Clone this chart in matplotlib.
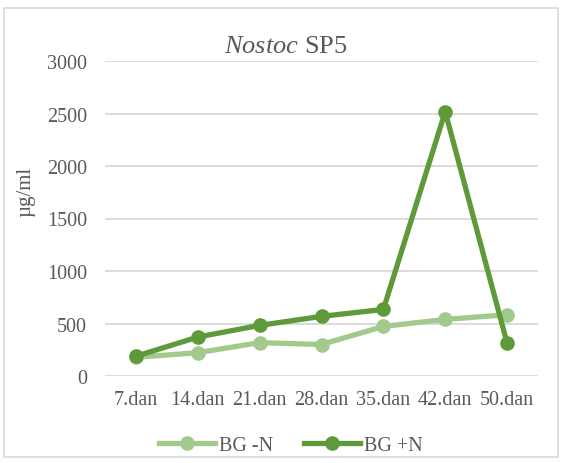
import matplotlib
matplotlib.use("Agg")
import matplotlib.pyplot as plt
from matplotlib.patches import Rectangle
from matplotlib.lines import Line2D

categories = ["7.dan", "14.dan", "21.dan", "28.dan", "35.dan", "42.dan", "50.dan"]
bg_minus_n = [178, 222, 318, 300, 472, 539, 584]
bg_plus_n = [188, 371, 482, 568, 634, 2517, 314]
series_names = ["BG -N", "BG +N"]
yticks = [0, 500, 1000, 1500, 2000, 2500, 3000]

light = "#A2CA8C"
dark = "#5E9A3A"
txt = "#595959"
grid = "#D9D9D9"

plt.rcParams["font.family"] = ["Liberation Serif", "DejaVu Serif"]
plt.rcParams["mathtext.fontset"] = "custom"
plt.rcParams["mathtext.rm"] = "Liberation Serif"
plt.rcParams["mathtext.it"] = "Liberation Serif:italic"

fig = plt.figure(figsize=(5.68, 4.64), dpi=100)
fig.patches.append(Rectangle((4/568, 6/464), 554/568, 449/464, transform=fig.transFigure,
                             fill=False, edgecolor=grid, linewidth=1.2))

ax = fig.add_axes([105/568, 87/464, 433/568, 315/464])
x = list(range(len(categories)))
ax.plot(x, bg_minus_n, color=light, lw=3.8, marker="o", ms=9.5, solid_capstyle="round", zorder=3)
ax.plot(x, bg_plus_n, color=dark, lw=3.8, marker="o", ms=9.5, solid_capstyle="round", zorder=4)

ax.set_xlim(-0.5, len(categories) - 0.5)
ax.set_ylim(0, 3000)
ax.set_yticks(yticks)
ax.set_xticks(x)
ax.set_xticklabels(categories)
ax.yaxis.grid(True, color=grid, lw=1.3)
ax.set_axisbelow(True)
for s in ax.spines.values():
    s.set_visible(False)
ax.tick_params(axis="both", length=0, labelsize=14.5, colors=txt)
ax.tick_params(axis="y", pad=13)
ax.tick_params(axis="x", pad=10)

fig.text(26/568, (464-192)/464, "µg/ml", rotation=90, ha="center", va="center",
         fontsize=15, color=txt)
fig.text(286/568, (464-53)/464, r"$\mathit{Nostoc}$ SP5", ha="center", va="baseline",
         fontsize=19, color=txt)

handles = [Line2D([], [], color=light, lw=3.8, marker="o", ms=9.5),
           Line2D([], [], color=dark, lw=3.8, marker="o", ms=9.5)]
fig.legend(handles, series_names, loc="center", bbox_to_anchor=(291/568, (464-446)/464),
           ncol=2, frameon=False, fontsize=14.5, labelcolor=txt, handlelength=2.8,
           handletextpad=0.2, columnspacing=1.5)

fig.savefig("out.png", dpi=100)
